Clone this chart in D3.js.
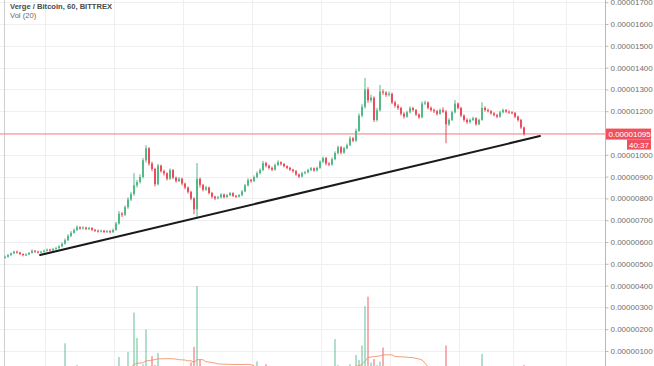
<!DOCTYPE html>
<html>
<head>
<meta charset="utf-8">
<script src="https://cdn.jsdelivr.net/npm/d3@7"></script>
<style>
  html, body { margin: 0; padding: 0; background: #fff; }
  svg { display: block; font-family: "Liberation Sans", Arial, sans-serif; }
</style>
</head>
<body>
<div id="chart"></div>
<script>
// prices in satoshi (1e-8 BTC), one candle per hour
const firstOpen = 528;
const closes = [
  532, 540, 548, 556, 552, 545, 540, 543, 550, 560,
  556, 552, 555, 560, 565, 562, 568, 572, 580, 592,
  608, 628, 642, 655, 668, 662, 666, 660, 664, 656,
  652, 648, 652, 646, 650, 645, 655, 685, 730, 725,
  760, 795, 820, 860, 875, 898, 975, 1030, 960, 935,
  865, 950, 925, 915, 890, 930, 895, 880, 890, 868,
  850, 830, 800, 750, 890, 862, 840, 850, 825, 808,
  800, 805, 818, 806, 815, 824, 812, 808, 815, 832,
  860, 885, 880, 898, 916, 930, 962, 950, 940, 932,
  953, 966, 958, 948, 940, 932, 925, 910, 900, 916,
  920, 930, 938, 928, 940, 968, 985, 960, 955, 980,
  1008, 1035, 1010, 1030, 1044, 1075, 1065, 1110, 1180, 1220,
  1300, 1250, 1262, 1160, 1205, 1290, 1285, 1275, 1280, 1240,
  1225, 1215, 1188, 1175, 1195, 1214, 1205, 1185, 1172, 1235,
  1240, 1215, 1205, 1200, 1188, 1205, 1198, 1140, 1160, 1195,
  1235, 1215, 1180, 1160, 1150, 1160, 1168, 1140, 1160, 1215,
  1205, 1200, 1190, 1182, 1175, 1195, 1205, 1198, 1195, 1192,
  1175, 1160, 1125, 1095
];
const highs = [
  538, 545, 552, 560, 560, 555, 548, 548, 554, 566,
  563, 560, 560, 565, 570, 569, 573, 578, 586, 598,
  616, 636, 650, 662, 676, 672, 672, 670, 669, 668,
  660, 657, 657, 655, 655, 654, 662, 692, 742, 738,
  768, 805, 830, 916, 885, 910, 985, 1044, 1035, 968,
  940, 958, 955, 932, 920, 938, 935, 900, 898, 895,
  872, 855, 835, 805, 962, 895, 866, 858, 854, 830,
  812, 812, 824, 822, 820, 830, 828, 816, 820, 838,
  866, 892, 890, 905, 924, 938, 972, 968, 955, 946,
  960, 975, 970, 962, 952, 945, 936, 930, 914, 922,
  926, 936, 944, 942, 946, 975, 992, 990, 966, 988,
  1016, 1042, 1040, 1036, 1052, 1085, 1082, 1120, 1190, 1232,
  1352, 1310, 1275, 1268, 1215, 1320, 1300, 1292, 1290, 1285,
  1248, 1232, 1220, 1195, 1202, 1222, 1220, 1210, 1190, 1245,
  1248, 1245, 1222, 1212, 1206, 1212, 1218, 1205, 1168, 1202,
  1251, 1240, 1220, 1185, 1168, 1166, 1175, 1172, 1166, 1241,
  1222, 1212, 1205, 1196, 1188, 1202, 1212, 1210, 1204, 1200,
  1196, 1180, 1165, 1130
];
const lows = [
  524, 528, 536, 544, 546, 540, 534, 536, 540, 547,
  550, 547, 548, 551, 556, 557, 558, 564, 568, 576,
  588, 604, 622, 638, 650, 656, 658, 654, 655, 650,
  646, 643, 644, 641, 642, 640, 642, 652, 680, 715,
  720, 752, 788, 812, 850, 868, 892, 965, 950, 925,
  855, 860, 918, 905, 882, 885, 888, 872, 875, 860,
  842, 822, 792, 728, 715, 850, 832, 835, 818, 800,
  792, 796, 800, 800, 802, 810, 806, 802, 804, 810,
  828, 855, 872, 875, 892, 910, 925, 942, 932, 925,
  928, 948, 950, 942, 934, 926, 918, 904, 893, 896,
  910, 915, 925, 922, 924, 936, 962, 952, 948, 950,
  975, 1002, 1002, 1005, 1025, 1040, 1058, 1060, 1105, 1172,
  1212, 1238, 1240, 1150, 1152, 1198, 1275, 1266, 1268, 1232,
  1216, 1206, 1180, 1166, 1170, 1190, 1198, 1178, 1165, 1168,
  1228, 1208, 1198, 1192, 1180, 1184, 1192, 1053, 1132, 1155,
  1190, 1208, 1172, 1152, 1142, 1144, 1155, 1134, 1136, 1156,
  1198, 1194, 1184, 1176, 1168, 1170, 1190, 1192, 1188, 1186,
  1168, 1152, 1118, 1088
];
const volumes = [
  30, 25, 40, 20, 35, 25, 30, 20, 45, 30,
  25, 35, 30, 20, 40, 30, 25, 45, 50, 60,
  341, 80, 70, 60, 90, 50, 40, 35, 45, 30,
  25, 30, 40, 35, 30, 45, 80, 60, 183, 50,
  70, 244, 60, 695, 402, 80, 100, 500, 70, 195,
  90, 232, 40, 50, 35, 60, 30, 25, 20, 30,
  25, 30, 122, 300, 1000, 150, 40, 30, 35, 25,
  20, 15, 25, 15, 20, 25, 15, 15, 20, 30,
  40, 50, 35, 45, 134, 60, 80, 100, 40, 30,
  25, 20, 30, 35, 25, 20, 20, 30, 25, 35,
  25, 25, 30, 20, 35, 60, 80, 50, 40, 70,
  390, 90, 73, 60, 80, 100, 70, 207, 150, 317,
  768, 878, 120, 160, 90, 130, 293, 80, 60, 50,
  40, 35, 30, 25, 30, 40, 30, 25, 30, 80,
  50, 40, 30, 25, 20, 30, 25, 317, 80, 60,
  70, 40, 30, 25, 20, 35, 30, 25, 40, 220,
  40, 30, 25, 20, 20, 35, 40, 25, 20, 20,
  30, 40, 60, 90
];
const priceTicks = [1700, 1600, 1500, 1400, 1300, 1200, 1100, 1000, 900,
                    800, 700, 600, 500, 400, 300, 200, 100];
const timeGrid = [13.3, 36.3, 59.3, 82.3, 105.3, 128.3, 151.3, 169.3, 187];
const trendPoints = [[11.7, 540], [178.3, 1086]];
const lastPrice = 1095;
const countdown = '40:37';
const title = 'Verge / Bitcoin, 60, BITTREX';
const volLabel = 'Vol (20)';

const config = {
    width: 654,
    height: 366,
    axisX: 605,
    upColor: '#53b987',
    downColor: '#eb4d5c',
    upVol: 'rgba(83,185,135,0.45)',
    downVol: 'rgba(235,77,92,0.45)'
};

const opens = [firstOpen].concat(closes.slice(0, -1));
const candles = closes.map((c, i) => ({
    i, o: opens[i], h: highs[i], l: lows[i], c, v: volumes[i]
}));

const fmt = d => (d * 1e-8).toFixed(8);

const svg = d3.select('#chart').append('svg')
    .attr('width', config.width)
    .attr('height', config.height);

const x = d3.scaleLinear().domain([0, closes.length - 1]).range([5, 524]);
const y = d3.scaleLinear().domain([100, 1700]).range([351, 2.2]);
const yVol = d3.scaleLinear().domain([0, 1000]).range([373, 286]);

svg.append('defs').append('clipPath').attr('id', 'pane')
    .append('rect').attr('x', 0).attr('y', 0)
    .attr('width', config.axisX).attr('height', config.height);

// grid
const grid = svg.append('g').attr('class', 'grid');
grid.selectAll('line.h').data(priceTicks).enter().append('line')
    .attr('x1', 0).attr('x2', config.axisX)
    .attr('y1', d => Math.round(y(d)) + 0.5).attr('y2', d => Math.round(y(d)) + 0.5)
    .attr('stroke', '#efefef');
grid.selectAll('line.v').data(timeGrid).enter().append('line')
    .attr('x1', d => Math.round(x(d)) + 0.5).attr('x2', d => Math.round(x(d)) + 0.5)
    .attr('y1', 0).attr('y2', config.height)
    .attr('stroke', '#efefef');

// left border
svg.append('line')
    .attr('x1', 4.5).attr('x2', 4.5).attr('y1', 0).attr('y2', config.height)
    .attr('stroke', '#cfcfcf');

const pane = svg.append('g').attr('clip-path', 'url(#pane)');

// volume bars
pane.append('g').selectAll('rect').data(candles).enter().append('rect')
    .attr('x', d => x(d.i) - 1)
    .attr('width', 2)
    .attr('y', d => yVol(d.v))
    .attr('height', d => yVol(0) - yVol(d.v))
    .attr('fill', d => d.c >= d.o ? config.upVol : config.downVol);

// volume moving average (20)
const volMa = candles.map((d, i) => ({
    i, v: d3.mean(volumes.slice(Math.max(0, i - 19), i + 1))
}));
pane.append('path').datum(volMa)
    .attr('fill', 'none')
    .attr('stroke', '#ef8a5a')
    .attr('stroke-opacity', 0.8)
    .attr('stroke-width', 1)
    .attr('d', d3.line().x(d => x(d.i)).y(d => yVol(d.v)));

// last price line
pane.append('line')
    .attr('x1', 0).attr('x2', config.axisX)
    .attr('y1', y(lastPrice)).attr('y2', y(lastPrice))
    .attr('stroke', '#f28b92').attr('stroke-opacity', 0.7)
    .attr('stroke-width', 1.5);

// candles
const candle = pane.append('g').selectAll('g').data(candles).enter().append('g');
candle.append('line')
    .attr('x1', d => x(d.i)).attr('x2', d => x(d.i))
    .attr('y1', d => y(d.h)).attr('y2', d => y(d.l))
    .attr('stroke', d => d.c >= d.o ? config.upColor : config.downColor)
    .attr('stroke-width', 1);
candle.append('rect')
    .attr('x', d => x(d.i) - 1)
    .attr('width', 2)
    .attr('y', d => y(Math.max(d.o, d.c)))
    .attr('height', d => Math.max(1, Math.abs(y(d.o) - y(d.c))))
    .attr('fill', d => d.c >= d.o ? config.upColor : config.downColor);

// trend line
pane.append('line')
    .attr('x1', x(trendPoints[0][0])).attr('y1', y(trendPoints[0][1]))
    .attr('x2', x(trendPoints[1][0])).attr('y2', y(trendPoints[1][1]))
    .attr('stroke', '#1a1a1a').attr('stroke-width', 2)
    .attr('stroke-linecap', 'round');

// price axis; labels under the last-price tag are hidden, as on the chart
const ly = y(lastPrice);
const axisTicks = priceTicks.filter(d => Math.abs(y(d) - ly) > 12);
const axis = svg.append('g')
    .attr('transform', 'translate(' + (config.axisX + 0.5) + ',0)')
    .call(d3.axisRight(y).tickValues(axisTicks).tickFormat(fmt)
        .tickSize(3).tickSizeOuter(0).tickPadding(2));
axis.select('.domain').attr('stroke', '#b8b8b8').attr('d', 'M0,0V' + config.height);
axis.selectAll('.tick line').attr('stroke', '#b8b8b8');
axis.selectAll('.tick text')
    .attr('fill', '#6f6f6f')
    .style('font-size', '8px')
    .style('font-family', '"Liberation Sans", Arial, sans-serif');

// last price label
svg.append('rect')
    .attr('x', config.axisX + 1).attr('y', ly - 5.5)
    .attr('width', 45).attr('height', 11)
    .attr('fill', '#f0505d');
svg.append('text')
    .attr('x', config.axisX + 3.5).attr('y', ly + 3)
    .attr('fill', '#fff').style('font-size', '8px')
    .text(fmt(lastPrice));
svg.append('rect')
    .attr('x', config.axisX + 22).attr('y', ly + 5.5)
    .attr('width', 24).attr('height', 10)
    .attr('fill', '#f0505d');
svg.append('text')
    .attr('x', config.axisX + 44).attr('y', ly + 13.5)
    .attr('text-anchor', 'end')
    .attr('fill', '#fff').style('font-size', '8px')
    .text(countdown);

// legend
svg.append('text')
    .attr('x', 10).attr('y', 9)
    .attr('fill', '#4a4a4a')
    .style('font-size', '7.6px').style('font-weight', 'bold')
    .text(title);
svg.append('text')
    .attr('x', 10).attr('y', 18)
    .attr('fill', '#6a6a6a')
    .style('font-size', '7.6px')
    .text(volLabel);
</script>
</body>
</html>
